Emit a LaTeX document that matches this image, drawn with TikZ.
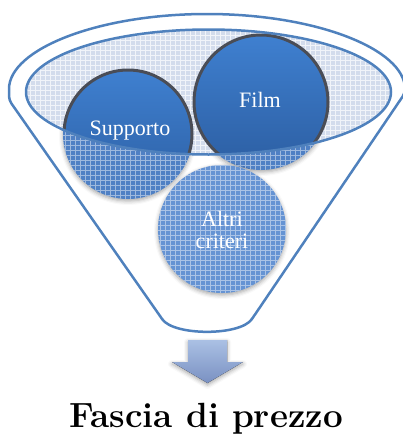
\documentclass[tikz,border=0pt]{standalone}
\usepackage{fontspec}
\newfontfamily\circfont{Liberation Serif}
\usetikzlibrary{shadows.blur}
\definecolor{funline}{HTML}{4F81BD}
\definecolor{lightbase}{HTML}{D3DCEC}
\definecolor{midbase}{HTML}{6593D3}
\definecolor{darkbase}{HTML}{4F80C4}
\definecolor{solidtop}{HTML}{3F80D0}
\definecolor{solidbot}{HTML}{2C5EA2}
\definecolor{rimgray}{HTML}{4A4D56}
\definecolor{arrtop}{HTML}{AAC0E4}
\definecolor{arrbot}{HTML}{7A91C2}
\tikzset{
  funnelline/.style={draw=funline, line width=2.5pt, line join=round},
  gridlines/.style={draw=white, line width=0.5pt, opacity=0.45},
  softshadow/.style={blur shadow={shadow xshift=0pt, shadow yshift=-2pt, shadow blur radius=4pt, shadow opacity=35}},
  solidcircle/.style={draw=rimgray, line width=3pt, top color=solidtop, bottom color=solidbot},
  circtext/.style={text=white, font=\circfont\fontsize{22}{24}\selectfont, align=center},
}
\begin{document}
\begin{tikzpicture}[x=1pt,y=-1pt]
\useasboundingbox (0,0) rectangle (403,434);

% funnel outline
\draw[funnelline, rounded corners=4pt] (9,93) arc[start angle=180,end angle=0,x radius=198pt,y radius=79pt]
  -- (254,316) .. controls (240,336) and (174,336) .. (160,316) -- (9,100) -- cycle;

% patterned circles (lower parts)
\fill[darkbase, softshadow] (128,134) circle[radius=65pt];
\fill[darkbase, softshadow] (261,102) circle[radius=68pt];
\fill[midbase, softshadow] (222,229) circle[radius=64pt];
\begin{scope}
  \clip (128,134) circle[radius=65pt];
  \draw[gridlines] (60,65) grid[step=5pt] (200,205);
\end{scope}
\begin{scope}
  \clip (261,102) circle[radius=68pt];
  \draw[gridlines] (190,30) grid[step=5pt] (335,175);
\end{scope}
\begin{scope}
  \clip (222,229) circle[radius=64pt];
  \draw[gridlines] (155,160) grid[step=5pt] (290,300);
\end{scope}

% inner ellipse (light pattern)
\fill[lightbase] (208.5,92) ellipse[x radius=182.5pt, y radius=62.5pt];
\begin{scope}
  \clip (208.5,92) ellipse[x radius=182.5pt, y radius=62.5pt];
  \draw[gridlines, opacity=0.7] (20,25) grid[step=5pt] (395,160);
  % solid circle parts inside the ellipse
  \path[solidcircle] (128,134) circle[radius=64pt];
  \path[solidcircle] (261,102) circle[radius=67pt];
\end{scope}
\draw[funnelline] (208.5,92) ellipse[x radius=182.5pt, y radius=62.5pt];

% texts
\node[circtext] (tsup) at (130,131) {Supporto};
\node[circtext] (tfilm) at (260,100) {Film};
\node[circtext, font=\circfont\fontsize{22}{22}\selectfont] (taltri) at (222,230) {Altri\\criteri};

% arrow
\fill[top color=arrtop, bottom color=arrbot, softshadow]
  (188,340) -- (227,340) -- (227,362) -- (243,362) -- (207.5,383) -- (172,362) -- (188,362) -- cycle;

% title
\node[anchor=base, font=\fontsize{35}{38}\selectfont\bfseries] (title) at (206,427) {Fascia di prezzo};
\end{tikzpicture}
\end{document}
